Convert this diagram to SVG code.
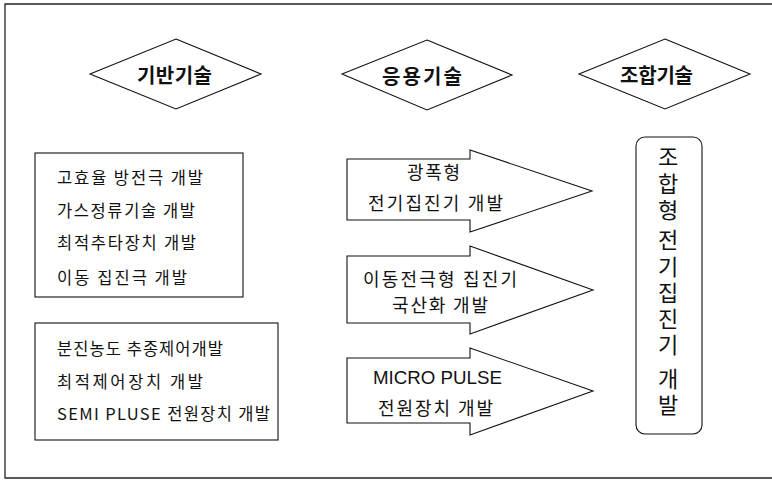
<svg xmlns="http://www.w3.org/2000/svg" width="772" height="481" viewBox="0 0 772 481">
<style>
.ln{fill:#fff;stroke:#111;stroke-width:1.1}
.frame{fill:none;stroke:#222;stroke-width:1.3}
text{font-family:"Noto Sans CJK KR","Liberation Sans",sans-serif;fill:#111;dominant-baseline:central}
.hd{font-size:20px;font-weight:bold}
.it{font-size:16.5px}
.ar{font-size:18px}
.vt{font-size:22px;text-anchor:middle}
</style>
<rect width="772" height="481" fill="#fff"/>
<path class="frame" d="M780,4 H5 V478 H780"/>
<g id="diamond-base">
<polygon class="ln" points="176,39 261,74 176,109 90,74"/>
<text class="hd" x="137" y="74" textLength="75" lengthAdjust="spacing">기반기술</text>
</g>
<g id="diamond-apply">
<polygon class="ln" points="427,40 512,75 427,110 342,74"/>
<text class="hd" x="382" y="75" textLength="80" lengthAdjust="spacing">응용기술</text>
</g>
<g id="diamond-combine">
<polygon class="ln" points="665,39 750,74 665,109 579,74"/>
<text class="hd" x="620" y="74" textLength="73" lengthAdjust="spacing">조합기술</text>
</g>
<g id="box-base1">
<rect class="ln" x="35" y="153" width="208" height="144"/>
<text class="it" x="57" y="177" textLength="146" lengthAdjust="spacing">고효율 방전극 개발</text>
<text class="it" x="57" y="210" textLength="138" lengthAdjust="spacing">가스정류기술 개발</text>
<text class="it" x="57" y="242" textLength="139" lengthAdjust="spacing">최적추타장치 개발</text>
<text class="it" x="57" y="277" textLength="130" lengthAdjust="spacing">이동 집진극 개발</text>
</g>
<g id="box-base2">
<rect class="ln" x="35" y="323" width="243" height="117"/>
<text class="it" x="57" y="348" textLength="166" lengthAdjust="spacing">분진농도 추종제어개발</text>
<text class="it" x="57" y="381" textLength="146" lengthAdjust="spacing">최적제어장치 개발</text>
<text class="it" x="57" y="413" textLength="213" lengthAdjust="spacing">SEMI PLUSE 전원장치 개발</text>
</g>
<g id="arrow-1">
<polygon class="ln" points="347,159 470,159 470,150 592,191 470,232 470,220 347,220"/>
<text class="ar" x="407" y="171" textLength="53" lengthAdjust="spacing">광폭형</text>
<text class="ar" x="368" y="202" textLength="135" lengthAdjust="spacing">전기집진기 개발</text>
</g>
<g id="arrow-2">
<polygon class="ln" points="347,256 470,256 470,246 593,290 470,334 470,323 347,323"/>
<text class="ar" x="363" y="278" textLength="154" lengthAdjust="spacing">이동전극형 집진기</text>
<text class="ar" x="392" y="304" textLength="96" lengthAdjust="spacing">국산화 개발</text>
</g>
<g id="arrow-3">
<polygon class="ln" points="347,358 470,358 470,348 593,391 470,435 470,423 347,423"/>
<text class="ar" x="373" y="378" textLength="129" lengthAdjust="spacingAndGlyphs" style="font-family:'Liberation Sans',sans-serif">MICRO PULSE</text>
<text class="ar" x="378" y="407" textLength="115" lengthAdjust="spacing">전원장치 개발</text>
</g>
<g id="box-combine">
<rect class="ln" x="636" y="137" width="66" height="297" rx="9"/>
<text class="vt"><tspan x="668" y="155">조</tspan><tspan x="668" y="182">합</tspan><tspan x="668" y="208">형</tspan><tspan x="668" y="238">전</tspan><tspan x="668" y="265">기</tspan><tspan x="668" y="291">집</tspan><tspan x="668" y="317">진</tspan><tspan x="668" y="343">기</tspan><tspan x="668" y="377">개</tspan><tspan x="668" y="403">발</tspan></text>
</g>
<g id="connectors"></g>
</svg>
